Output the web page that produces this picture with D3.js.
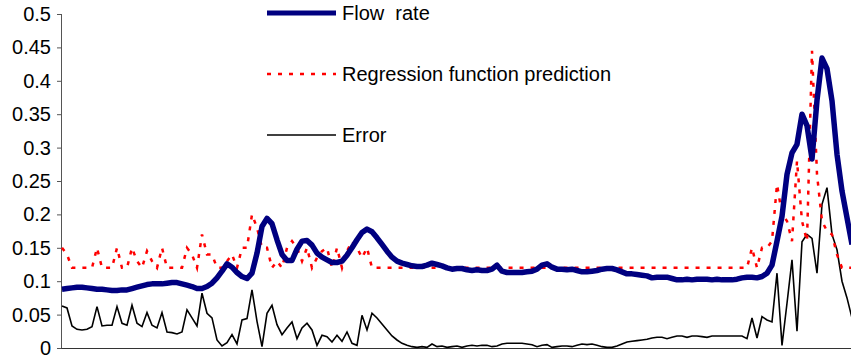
<!DOCTYPE html>
<html>
<head>
<meta charset="utf-8">
<script src="https://cdn.jsdelivr.net/npm/d3@7"></script>
<style>
  body { margin: 0; background: #fff; }
  svg text { font-family: "Liberation Sans", Arial, sans-serif; fill: #000; }
</style>
</head>
<body>
<svg width="851" height="356"></svg>
<script>
// samples, one every few seconds (index only)
const flowRate = [
  0.088, 0.089, 0.090, 0.091, 0.091, 0.090, 0.089, 0.088, 0.088, 0.087,
  0.086, 0.086, 0.087, 0.087, 0.089, 0.091, 0.093, 0.095, 0.096, 0.096,
  0.096, 0.097, 0.098, 0.098, 0.096, 0.094, 0.092, 0.089, 0.089, 0.092,
  0.097, 0.105, 0.115, 0.126, 0.121, 0.113, 0.107, 0.104, 0.112, 0.142,
  0.182, 0.194, 0.186, 0.162, 0.140, 0.131, 0.131, 0.148, 0.160, 0.161,
  0.154, 0.142, 0.136, 0.132, 0.128, 0.128, 0.130, 0.139, 0.150, 0.162,
  0.173, 0.178, 0.174, 0.165, 0.155, 0.145, 0.136, 0.130, 0.127, 0.125,
  0.123, 0.122, 0.122, 0.124, 0.127, 0.125, 0.123, 0.120, 0.118, 0.119,
  0.119, 0.117, 0.116, 0.117, 0.116, 0.116, 0.118, 0.124, 0.115, 0.113,
  0.113, 0.113, 0.113, 0.114, 0.115, 0.118, 0.124, 0.126, 0.121, 0.118,
  0.118, 0.117, 0.118, 0.116, 0.114, 0.114, 0.115, 0.116, 0.118, 0.119,
  0.119, 0.117, 0.114, 0.111, 0.111, 0.110, 0.109, 0.108, 0.105, 0.106,
  0.106, 0.106, 0.104, 0.102, 0.102, 0.103, 0.102, 0.103, 0.103, 0.103,
  0.102, 0.103, 0.102, 0.102, 0.102, 0.103, 0.105, 0.106, 0.106, 0.105,
  0.107, 0.112, 0.124, 0.160, 0.197, 0.260, 0.292, 0.305, 0.350, 0.333,
  0.283, 0.371, 0.434, 0.418, 0.370, 0.290, 0.235, 0.195, 0.155
];

const prediction = [
  0.150, 0.140, 0.120, 0.120, 0.120, 0.120, 0.120, 0.150, 0.120, 0.120,
  0.120, 0.150, 0.120, 0.120, 0.150, 0.130, 0.120, 0.145, 0.130, 0.120,
  0.150, 0.120, 0.120, 0.120, 0.120, 0.150, 0.140, 0.120, 0.170, 0.140,
  0.140, 0.120, 0.120, 0.130, 0.140, 0.120, 0.150, 0.150, 0.200, 0.180,
  0.150, 0.150, 0.120, 0.130, 0.120, 0.150, 0.160, 0.150, 0.130, 0.150,
  0.120, 0.135, 0.145, 0.150, 0.120, 0.150, 0.120, 0.145, 0.160, 0.150,
  0.135, 0.150, 0.120, 0.120, 0.120, 0.120, 0.120, 0.120, 0.120, 0.120,
  0.120, 0.120, 0.120, 0.120, 0.120, 0.120, 0.120, 0.120, 0.120, 0.120,
  0.120, 0.120, 0.120, 0.120, 0.120, 0.120, 0.120, 0.120, 0.120, 0.120,
  0.120, 0.120, 0.120, 0.120, 0.120, 0.120, 0.120, 0.120, 0.120, 0.120,
  0.120, 0.120, 0.120, 0.120, 0.120, 0.120, 0.120, 0.120, 0.120, 0.120,
  0.120, 0.120, 0.120, 0.120, 0.120, 0.120, 0.120, 0.120, 0.120, 0.120,
  0.120, 0.120, 0.120, 0.120, 0.120, 0.120, 0.120, 0.120, 0.120, 0.120,
  0.120, 0.120, 0.120, 0.120, 0.120, 0.120, 0.120, 0.120, 0.150, 0.120,
  0.150, 0.150, 0.160, 0.245, 0.200, 0.190, 0.160, 0.280, 0.190, 0.160,
  0.445, 0.260, 0.190, 0.175, 0.170, 0.140, 0.120, 0.120, 0.120
];

const errorValues = [
  0.063, 0.060, 0.033, 0.028, 0.027, 0.028, 0.032, 0.062, 0.033, 0.034,
  0.034, 0.062, 0.037, 0.034, 0.064, 0.037, 0.032, 0.053, 0.034, 0.030,
  0.053, 0.024, 0.023, 0.021, 0.024, 0.057, 0.045, 0.033, 0.082, 0.052,
  0.045, 0.012, 0.003, 0.008, 0.020, 0.006, 0.042, 0.044, 0.087, 0.040,
  0.002, 0.052, 0.064, 0.035, 0.020, 0.030, 0.039, 0.014, 0.030, 0.037,
  0.027, 0.004, 0.019, 0.017, 0.009, 0.019, 0.010, 0.024, 0.007, 0.004,
  0.049, 0.027, 0.052, 0.045, 0.036, 0.027, 0.018, 0.012, 0.007, 0.004,
  0.002, 0.001, 0.002, 0.001, 0.006, 0.002, 0.003, 0.001, 0.002, 0.003,
  0.001, 0.003, 0.004, 0.003, 0.004, 0.004, 0.002, 0.003, 0.006, 0.007,
  0.007, 0.007, 0.007, 0.006, 0.005, 0.002, 0.004, 0.005, 0.001, 0.002,
  0.003, 0.003, 0.002, 0.004, 0.006, 0.005, 0.006, 0.004, 0.002, 0.001,
  0.001, 0.003, 0.006, 0.009, 0.010, 0.011, 0.012, 0.013, 0.015, 0.016,
  0.016, 0.014, 0.016, 0.018, 0.018, 0.016, 0.018, 0.018, 0.017, 0.016,
  0.018, 0.018, 0.018, 0.018, 0.018, 0.018, 0.018, 0.014, 0.045, 0.015,
  0.047, 0.042, 0.039, 0.112, 0.004, 0.067, 0.132, 0.025, 0.159, 0.170,
  0.164, 0.112, 0.215, 0.240, 0.170, 0.147, 0.100, 0.075, 0.045
];

const yTicks = [0, 0.05, 0.1, 0.15, 0.2, 0.25, 0.3, 0.35, 0.4, 0.45, 0.5];
const seriesNames = ["Flow  rate", "Regression function prediction", "Error"];

const svg = d3.select("svg"),
    width = +svg.attr("width"),
    height = +svg.attr("height");

const plot = { left: 62, top: 14, bottom: 348, step: 5 };

const x = d3.scaleLinear()
    .domain([0, flowRate.length - 1])
    .range([plot.left, plot.left + plot.step * (flowRate.length - 1)]);

const y = d3.scaleLinear()
    .domain([0, 0.5])
    .range([plot.bottom, plot.top]);

// y axis
const yAxis = svg.append("g")
    .attr("transform", `translate(${plot.left},0)`)
    .call(d3.axisLeft(y).tickValues(yTicks).tickSize(5).tickPadding(6)
        .tickFormat(d => String(d)));
yAxis.select(".domain").attr("stroke", "#555").attr("d", `M-0.5,${plot.top}V${plot.bottom}`);
yAxis.selectAll(".tick line").attr("stroke", "#555");
yAxis.selectAll(".tick text")
    .style("font-size", "20px");

// x axis: just the baseline
svg.append("line")
    .attr("x1", plot.left - 0.5)
    .attr("x2", width)
    .attr("y1", plot.bottom + 0.5)
    .attr("y2", plot.bottom + 0.5)
    .attr("stroke", "#333");

const line = d3.line()
    .x((d, i) => x(i))
    .y(d => y(d));

svg.append("path")
    .datum(errorValues)
    .attr("fill", "none")
    .attr("stroke", "#000")
    .attr("stroke-width", 1.6)
    .attr("d", line);

svg.append("path")
    .datum(prediction)
    .attr("fill", "none")
    .attr("stroke", "#ff0000")
    .attr("stroke-width", 2.5)
    .attr("stroke-dasharray", "4,7")
    .attr("d", line);

svg.append("path")
    .datum(flowRate)
    .attr("fill", "none")
    .attr("stroke", "#000080")
    .attr("stroke-width", 5.5)
    .attr("stroke-linejoin", "round")
    .attr("d", line);

// legend
const legendStyles = [
    { stroke: "#000080", width: 5, dash: null },
    { stroke: "#ff0000", width: 2.5, dash: "4,7" },
    { stroke: "#000", width: 1.6, dash: null }
];
const legend = svg.append("g").attr("transform", "translate(267,13)");
seriesNames.forEach((name, i) => {
    const row = legend.append("g").attr("transform", `translate(0,${i * 61})`);
    row.append("line")
        .attr("x1", 0).attr("x2", 69)
        .attr("y1", 0).attr("y2", 0)
        .attr("stroke", legendStyles[i].stroke)
        .attr("stroke-width", legendStyles[i].width)
        .attr("stroke-dasharray", legendStyles[i].dash);
    row.append("text")
        .attr("x", 75)
        .attr("y", 0)
        .attr("dy", "0.35em")
        .style("font-size", "20px")
        .style("white-space", "pre")
        .text(name);
});
</script>
</body>
</html>
